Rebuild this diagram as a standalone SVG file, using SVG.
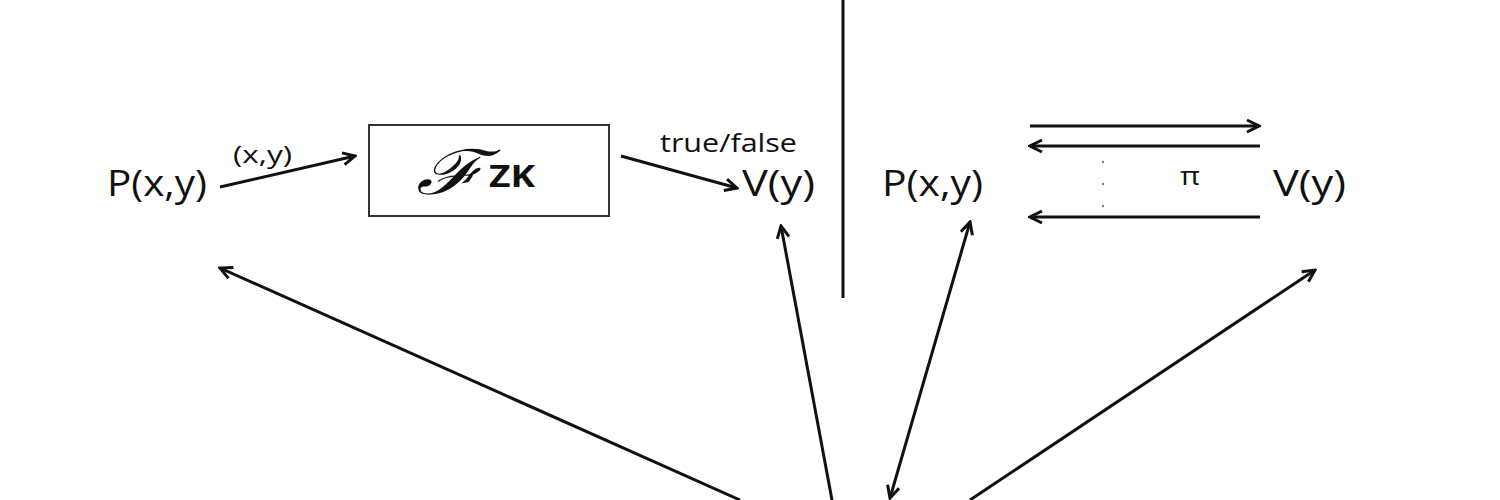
<svg xmlns="http://www.w3.org/2000/svg" width="1500" height="500" viewBox="0 0 1500 500">
<style>
.t{font-family:"Open Sans","Liberation Sans",sans-serif;fill:#111}
.n{font-size:36px}
.c{stroke:#111;stroke-width:3;fill:none}
</style>
<defs>
<marker id="ah" viewBox="0 0 16 16" refX="14" refY="8" markerWidth="16" markerHeight="16" markerUnits="userSpaceOnUse" orient="auto-start-reverse">
<path d="M2,2 L14,8 L2,14" fill="none" stroke="#111" stroke-width="3" stroke-linejoin="miter"/>
</marker>
</defs>
<rect width="1500" height="500" fill="#fff"/>
<line x1="843" y1="0" x2="843" y2="298" class="c"/>
<g id="p-left"><text class="t n" x="107" y="196" textLength="100" lengthAdjust="spacingAndGlyphs">P(x,y)</text></g>
<g id="fzk">
<rect x="369" y="125" width="240" height="91" fill="#fff" stroke="#333" stroke-width="2"/>
<text x="416" y="194" font-family="DejaVu Serif,serif" font-style="italic" font-size="62" fill="#111" textLength="68" lengthAdjust="spacingAndGlyphs">ℱ</text>
<text class="t" x="489" y="187" font-size="30" font-weight="bold" textLength="46" lengthAdjust="spacingAndGlyphs">ZK</text>
</g>
<g id="v-left"><text class="t n" x="742" y="196" textLength="73" lengthAdjust="spacingAndGlyphs">V(y)</text></g>
<g id="p-right"><text class="t n" x="882" y="196" textLength="101" lengthAdjust="spacingAndGlyphs">P(x,y)</text></g>
<g id="v-right"><text class="t n" x="1273" y="196" textLength="73" lengthAdjust="spacingAndGlyphs">V(y)</text></g>
<g id="labels">
<text class="t" x="233" y="163" font-size="24" textLength="59" lengthAdjust="spacingAndGlyphs">(x,y)</text>
<text class="t" x="660" y="152" font-size="25" textLength="137" lengthAdjust="spacingAndGlyphs">true/false</text>
<text class="t" x="1180" y="185" font-size="26" textLength="20" lengthAdjust="spacingAndGlyphs">π</text>
<circle cx="1103" cy="162" r="1.2" fill="#777"/>
<circle cx="1103" cy="184" r="1.2" fill="#777"/>
<circle cx="1103" cy="206" r="1.2" fill="#777"/>
</g>
<g id="connectors" class="c" marker-end="url(#ah)">
<line x1="220" y1="187" x2="355" y2="156"/>
<line x1="621" y1="156" x2="737" y2="188"/>
<line x1="1030" y1="126" x2="1259" y2="126"/>
<line x1="1260" y1="146" x2="1030" y2="146"/>
<line x1="1260" y1="217" x2="1030" y2="217"/>
<line x1="740" y1="500" x2="220" y2="268"/>
<line x1="832" y1="500" x2="781" y2="226"/>
<line x1="970" y1="222" x2="890" y2="498" marker-start="url(#ah)"/>
<line x1="970" y1="500" x2="1315" y2="270"/>
</g>
</svg>
